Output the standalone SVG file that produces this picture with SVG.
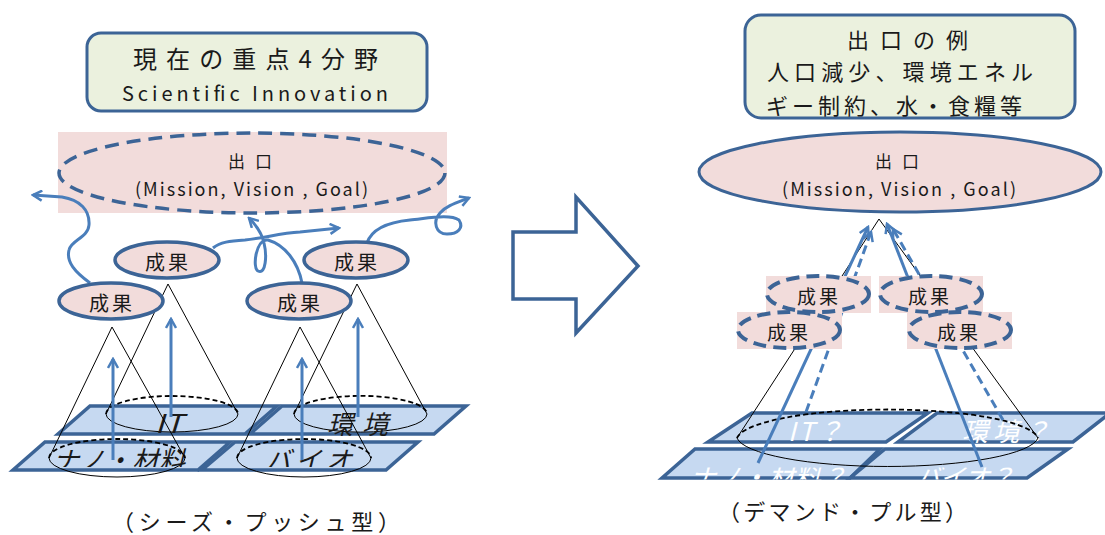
<svg xmlns="http://www.w3.org/2000/svg" width="1105" height="535" viewBox="0 0 1105 535">
<style>
.jp{font-family:"Noto Sans CJK JP","Noto Sans",sans-serif;fill:#1a1a1a}
.box{fill:#ebf1de;stroke:#3c6496;stroke-width:3}
.pink{fill:#f2dcdb}
.res{fill:#f2dcdb;stroke:#3c6496;stroke-width:3.5}
.dres{fill:none;stroke:#3c6496;stroke-width:4;stroke-dasharray:13 7}
.pg{fill:#c6d9f1;stroke:#3c6496;stroke-width:3.5;stroke-linejoin:miter}
.cone{fill:none;stroke:#000;stroke-width:1}
.dtop{fill:none;stroke:#000;stroke-width:1.8;stroke-dasharray:5 3}
.ar{fill:none;stroke:#4a7ebb;stroke-width:3;marker-end:url(#oa)}
.ard{fill:none;stroke:#4a7ebb;stroke-width:3;stroke-dasharray:9 5;marker-end:url(#oa)}
.it{font-style:italic;font-size:26px}
.wt{fill:#fff}
</style>
<defs>
<marker id="oa" markerWidth="12" markerHeight="12" refX="10" refY="6" orient="auto" markerUnits="userSpaceOnUse">
<path d="M1,1 L10,6 L1,11" fill="none" stroke="#4a7ebb" stroke-width="2.5"/>
</marker>
<clipPath id="c1"><rect x="740" y="30.5" width="340" height="100"/></clipPath>
<clipPath id="c2"><rect x="0" y="467.5" width="1105" height="12"/></clipPath>
<clipPath id="c3"><rect x="0" y="380" width="1105" height="87"/></clipPath>
</defs>

<!-- LEFT SIDE -->
<g id="title-left">
<rect class="box" x="87" y="33" width="340" height="78" rx="14"/>
<text class="jp" x="133" y="68" font-size="24" textLength="245" lengthAdjust="spacing">現在の重点4分野</text>
<text class="jp" x="122" y="101" font-size="20" textLength="266" lengthAdjust="spacing">Scientific Innovation</text>
</g>

<g id="goal-left">
<rect class="pink" x="58" y="132" width="389" height="81"/>
<ellipse cx="252" cy="173" rx="193" ry="40" fill="none" stroke="#3c6496" stroke-width="3.5" stroke-dasharray="14 8"/>
<text class="jp" x="228" y="168" font-size="17" textLength="44" lengthAdjust="spacing">出口</text>
<text class="jp" x="135" y="196" font-size="18" textLength="233" lengthAdjust="spacing">(Mission, Vision , Goal)</text>
</g>

<g id="fields-left">
<polygon class="pg" points="90,406 277,406 245,434 58,434"/>
<polygon class="pg" points="282,406 466,406 434,434 250,434"/>
<polygon class="pg" points="45,442 230,442 198,470 13,470"/>
<polygon class="pg" points="235,442 418,442 386,470 202,470"/>
</g>

<g id="base-IT">
<path class="cone" d="M106,414 A66,18 0 0 0 238,414"/>
<path class="dtop" d="M106,414 A66,18 0 0 1 238,414"/>
<text class="jp it" x="155" y="433" textLength="28" lengthAdjust="spacingAndGlyphs">IT</text>
</g>
<g id="base-env">
<path class="cone" d="M294,414 A66,18 0 0 0 427,414"/>
<path class="dtop" d="M294,414 A66,18 0 0 1 427,414"/>
<text class="jp it" x="327" y="434" textLength="61" lengthAdjust="spacing">環境</text>
</g>
<g id="base-nano">
<path class="cone" d="M49,458 A68,19 0 0 0 185,458"/>
<path class="dtop" d="M49,458 A68,19 0 0 1 185,458"/>
<text class="jp it" x="53" y="470" textLength="132" lengthAdjust="spacing" clip-path="url(#c3)">ナノ・材料</text>
</g>
<g id="base-bio">
<path class="cone" d="M237,458 A67,19 0 0 0 371,458"/>
<path class="dtop" d="M237,458 A67,19 0 0 1 371,458"/>
<text class="jp it" x="265" y="470" textLength="87" lengthAdjust="spacing" clip-path="url(#c3)">バイオ</text>
</g>

<g id="cones-left">
<polyline class="cone" points="49,458 112,327 185,458"/>
<polyline class="cone" points="106,414 168,284 238,414"/>
<polyline class="cone" points="237,458 300,327 371,458"/>
<polyline class="cone" points="294,414 357,284 427,414"/>
</g>

<g id="connectors-left">
<line class="ar" x1="113" y1="460" x2="113" y2="359"/>
<line class="ar" x1="171" y1="417" x2="171" y2="319"/>
<line class="ar" x1="302" y1="460" x2="302" y2="359"/>
<line class="ar" x1="358" y1="417" x2="358" y2="319"/>
<path class="ar" d="M90,283 C75,272 66,262 69,250 C71,240 88,238 89,225 C90,210 80,200 62,197 L33,195"/>
<path class="ar" d="M213,248 C220,242 230,241 245,240 C265,238 280,233 300,232 L339,228"/>
<path class="ar" d="M302,283 C298,262 285,245 268,240 C256,238 252,268 258,271 C266,275 267,255 264,243 C262,233 256,225 249,218"/>
<path class="ar" d="M367,243 C372,228 390,222 410,220 C430,218 450,214 459,220 C464,228 458,234 447,234 C436,234 432,222 440,213 C446,206 456,203 469,198"/>
</g>

<g id="result-l1"><ellipse class="res" cx="111" cy="301" rx="52" ry="18"/><text class="jp" x="89" y="311" font-size="20" textLength="43" lengthAdjust="spacing">成果</text></g>
<g id="result-l2"><ellipse class="res" cx="167" cy="260" rx="52" ry="18"/><text class="jp" x="145" y="270" font-size="20" textLength="43" lengthAdjust="spacing">成果</text></g>
<g id="result-l3"><ellipse class="res" cx="299" cy="301" rx="52" ry="18"/><text class="jp" x="277" y="311" font-size="20" textLength="43" lengthAdjust="spacing">成果</text></g>
<g id="result-l4"><ellipse class="res" cx="356" cy="260" rx="52" ry="18"/><text class="jp" x="334" y="270" font-size="20" textLength="43" lengthAdjust="spacing">成果</text></g>

<g id="caption-left">
<text class="jp" x="112" y="530" font-size="22" textLength="288" lengthAdjust="spacing">（シーズ・プッシュ型）</text>
</g>

<!-- BIG ARROW -->
<g id="transition-arrow">
<polygon points="513,232 576,232 576,197 638,266 576,333 576,299 513,299" fill="#fff" stroke="#3c6496" stroke-width="3.5" stroke-linejoin="miter"/>
</g>

<!-- RIGHT SIDE -->
<g id="title-right">
<rect class="box" x="745" y="15" width="330" height="103" rx="16"/>
<g clip-path="url(#c1)">
<text class="jp" x="847" y="48" font-size="22" textLength="121" lengthAdjust="spacing">出口の例</text>
</g>
<text class="jp" x="767" y="80" font-size="22" textLength="266" lengthAdjust="spacing">人口減少、環境エネル</text>
<text class="jp" x="766" y="114" font-size="22" textLength="256" lengthAdjust="spacing">ギー制約、水・食糧等</text>
</g>

<g id="goal-right">
<ellipse cx="900" cy="172" rx="201" ry="40" fill="#f2dcdb" stroke="#3c6496" stroke-width="3"/>
<text class="jp" x="875" y="168" font-size="17" textLength="44" lengthAdjust="spacing">出口</text>
<text class="jp" x="782" y="196" font-size="18" textLength="234" lengthAdjust="spacing">(Mission, Vision , Goal)</text>
</g>

<g id="fields-right">
<polygon class="pg" points="752,413 928,413 886,442 708,442"/>
<polygon class="pg" points="937,413 1110,413 1073,442 898,442"/>
<polygon class="pg" points="695,449 880,449 850,478 662,478"/>
<polygon class="pg" points="885,449 1068,449 1027,478 850,478"/>
<text class="jp it wt" x="788" y="441" font-size="24" textLength="55" lengthAdjust="spacing">IT？</text>
<text class="jp it wt" x="962" y="441" font-size="24" textLength="88" lengthAdjust="spacing">環境？</text>
<g clip-path="url(#c2)">
<text class="jp it wt" x="690" y="487" font-size="22" textLength="157" lengthAdjust="spacing">ナノ・材料？</text>
<text class="jp it wt" x="915" y="487" font-size="22" textLength="100" lengthAdjust="spacing">バイオ？</text>
</g>
</g>

<g id="base-right">
<path class="cone" d="M737,438 A151,31 0 0 0 1038,438"/>
<path class="dtop" d="M737,438 A151,31 0 0 1 1038,438"/>
<polyline class="cone" points="737,438 879,219 1038,438"/>
</g>

<g id="connectors-right">
<line class="ar" x1="758" y1="463" x2="868" y2="227"/>
<line class="ard" x1="806" y1="412" x2="871" y2="232"/>
<line class="ar" x1="982" y1="467" x2="887" y2="224"/>
<line class="ard" x1="1003" y1="420" x2="893" y2="229"/>
</g>

<g id="result-r3"><rect class="pink" x="737" y="312" width="105" height="37"/></g>
<g id="result-r4"><rect class="pink" x="907" y="312" width="105" height="37"/></g>
<g id="result-r1"><rect class="pink" x="766" y="276" width="105" height="37"/><ellipse class="dres" cx="818" cy="294" rx="51" ry="18"/><text class="jp" x="797" y="304" font-size="19" textLength="41" lengthAdjust="spacing">成果</text></g>
<g id="result-r2"><rect class="pink" x="879" y="276" width="104" height="37"/><ellipse class="dres" cx="931" cy="294" rx="51" ry="18"/><text class="jp" x="908" y="304" font-size="19" textLength="41" lengthAdjust="spacing">成果</text></g>
<g id="result-r3-top"><ellipse class="dres" cx="789" cy="330" rx="51" ry="18"/><text class="jp" x="767" y="340" font-size="19" textLength="41" lengthAdjust="spacing">成果</text></g>
<g id="result-r4-top"><ellipse class="dres" cx="960" cy="330" rx="51" ry="18"/><text class="jp" x="937" y="340" font-size="19" textLength="41" lengthAdjust="spacing">成果</text></g>

<g id="caption-right">
<text class="jp" x="718" y="520" font-size="22" textLength="249" lengthAdjust="spacing">（デマンド・プル型）</text>
</g>
</svg>
